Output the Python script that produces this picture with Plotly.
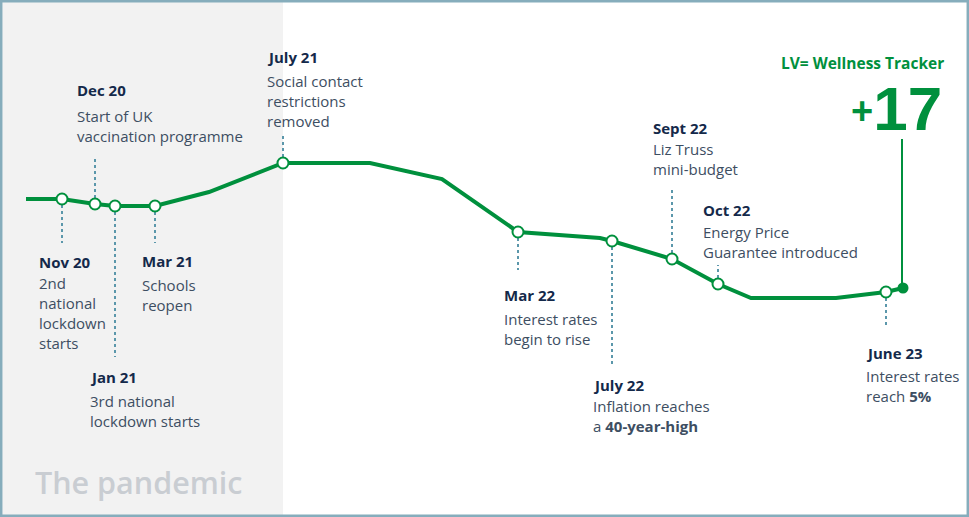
import plotly.graph_objects as go

# ---- data (timeline position, wellness index) ----
x_pos = [26, 62, 95, 115, 155, 209, 283, 370, 442, 518, 600, 612, 672, 718, 751, 836, 886, 903]
score = [70.5, 70.5, 68, 67, 67, 74, 88.5, 88.5, 80.5, 54, 51, 49.5, 40.5, 28, 21, 21, 24, 26]

milestone_idx = [1, 2, 3, 4, 6, 9, 11, 12, 13, 16]
milestone_names = ["Nov 20", "Dec 20", "Jan 21", "Mar 21", "July 21",
                   "Mar 22", "July 22", "Sept 22", "Oct 22", "June 23"]
milestone_text = [
    ["2nd", "national", "lockdown", "starts"],
    ["Start of UK", "vaccination programme"],
    ["3rd national", "lockdown starts"],
    ["Schools", "reopen"],
    ["Social contact", "restrictions", "removed"],
    ["Interest rates", "begin to rise"],
    ["Inflation reaches", "a <b>40-year-high</b>"],
    ["Liz Truss", "mini-budget"],
    ["Energy Price", "Guarantee introduced"],
    ["Interest rates", "reach <b>5%</b>"],
]
tracker_title = "LV= Wellness Tracker"
tracker_value = "+17"
period_label = "The pandemic"

# ---- layout helpers (pixel positions of labels) ----
W, H = 969, 517
def Y(px):
    return (340 - px) / 2.0

guide_end_px = [243, 158, 357, 243, 136, 270, 367, 187, 265, 325]
label_x = [39, 77, 90, 142, 267, 504, 593, 653, 703, 866]
label_y = [262, 90, 377, 261, 57, 295, 385, 128, 210, 353]
body_y0 = [283, 116, 401, 285, 81, 319, 406, 149, 232, 376]
LINE_H = 20

GREEN = "#00903d"
NAVY = "#14294a"
BODY = "#3d4e62"
DASH = "#5b97ab"
FONT = "Open Sans"

fig = go.Figure()

# main line
fig.add_trace(go.Scatter(
    x=x_pos, y=score, mode="lines",
    line=dict(color=GREEN, width=4), hoverinfo="skip", showlegend=False))

# hollow milestone markers
fig.add_trace(go.Scatter(
    x=[x_pos[i] for i in milestone_idx], y=[score[i] for i in milestone_idx],
    mode="markers",
    marker=dict(size=11, color="white", line=dict(color=GREEN, width=2)),
    hoverinfo="skip", showlegend=False))

# final filled point
fig.add_trace(go.Scatter(
    x=[x_pos[-1]], y=[score[-1]], mode="markers",
    marker=dict(size=11, color=GREEN), hoverinfo="skip", showlegend=False))

shapes = []
# pandemic shaded region
shapes.append(dict(type="rect", xref="x", yref="paper", x0=0, x1=x_pos[6], y0=0, y1=1,
                   fillcolor="#f2f2f2", line=dict(width=0), layer="below"))
# dashed guides
for k, i in enumerate(milestone_idx):
    shapes.append(dict(type="line", xref="x", yref="y",
                       x0=x_pos[i], x1=x_pos[i], y0=score[i], y1=Y(guide_end_px[k]),
                       line=dict(color=DASH, width=2, dash="3px,3px"), layer="below"))
# vertical line to tracker value
shapes.append(dict(type="line", xref="x", yref="y",
                   x0=x_pos[-1] - 1, x1=x_pos[-1] - 1, y0=score[-1], y1=Y(139),
                   line=dict(color=GREEN, width=2), layer="below"))
# border
shapes.append(dict(type="rect", xref="paper", yref="paper",
                   x0=1.2 / W, x1=1 - 1.2 / W, y0=1.2 / H, y1=1 - 1.2 / H,
                   line=dict(color="#86adbc", width=2.5), fillcolor="rgba(0,0,0,0)"))

annotations = []
for k in range(len(milestone_names)):
    annotations.append(dict(
        x=label_x[k], y=Y(label_y[k]), xref="x", yref="y", text="<b>" + milestone_names[k] + "</b>",
        showarrow=False, xanchor="left", yanchor="middle", xshift=-2,
        font=dict(family=FONT, size=15, color=NAVY)))
    for j, line in enumerate(milestone_text[k]):
        annotations.append(dict(
            x=label_x[k], y=Y(body_y0[k] + j * LINE_H), xref="x", yref="y", text=line,
            showarrow=False, xanchor="left", yanchor="middle", xshift=-2,
            font=dict(family=FONT, size=15, color=BODY)))

# tracker headline
annotations.append(dict(
    x=944, y=Y(62.5), xref="x", yref="y", text="<b>" + tracker_title + "</b>",
    showarrow=False, xanchor="right", yanchor="middle", xshift=2,
    font=dict(family=FONT, size=15.5, color=GREEN)))
annotations.append(dict(
    x=942, y=Y(108), xref="x", yref="y",
    text=("<b><span style='font-size:38px;baseline-shift:6px'>" + tracker_value[0] + "</span>"
          + tracker_value[1:] + "</b>"),
    showarrow=False, xanchor="right", yanchor="middle", xshift=2,
    font=dict(family="Liberation Sans", size=62, color=GREEN)))
annotations.append(dict(
    x=34, y=Y(482), xref="x", yref="y", text=period_label,
    showarrow=False, xanchor="left", yanchor="middle", xshift=-1,
    font=dict(family=FONT, size=30.5, color="#c9cdd2", weight=600)))

fig.update_layout(
    width=W, height=H, margin=dict(l=0, r=0, t=0, b=0),
    paper_bgcolor="white", plot_bgcolor="white",
    xaxis=dict(range=[0, W], visible=False, fixedrange=True),
    yaxis=dict(range=[Y(H), Y(0)], visible=False, fixedrange=True),
    shapes=shapes, annotations=annotations, showlegend=False,
)

fig.write_html("out.html", config={"displayModeBar": False},
               post_script="document.body.style.margin='0';document.body.style.overflow='hidden';")
